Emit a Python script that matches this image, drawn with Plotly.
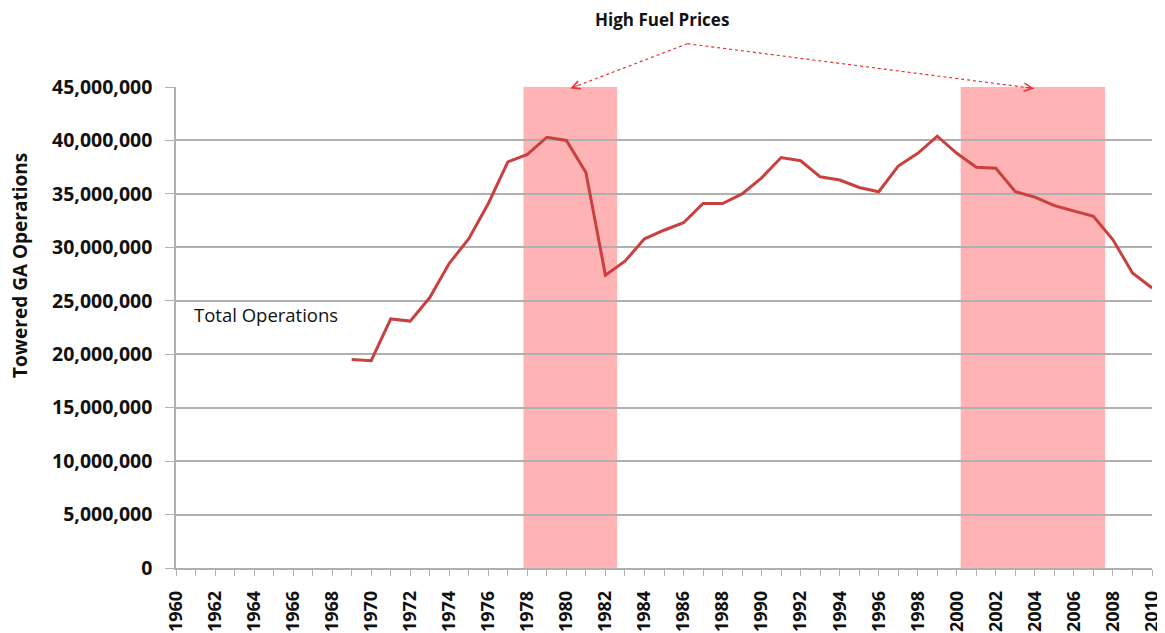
import plotly.graph_objects as go

years = list(range(1969, 2011))
operations = [
    19.5, 19.4, 23.3, 23.1, 25.3, 28.5, 30.8, 34.1, 38.0, 38.7,
    40.3, 40.0, 37.0, 27.4, 28.7, 30.8, 31.6, 32.3, 34.1, 34.1,
    35.0, 36.5, 38.4, 38.1, 36.6, 36.3, 35.6, 35.2, 37.6, 38.8,
    40.4, 38.8, 37.5, 37.4, 35.2, 34.7, 33.9, 33.4, 32.9, 30.7,
    27.6, 26.2,
]
operations = [v * 1e6 for v in operations]

fuel_periods = [(1977.8, 1982.6), (2000.2, 2007.6)]
arrow_targets = [1980.2, 2003.95]
apex_year = 1986.2
title_year = 1984.9

x_min, x_max = 1960, 2010
y_max = 45_000_000
tick_years = list(range(1960, 2011, 2))

FONT = "Open Sans"
LINE_COLOR = "#C8413F"
SHADE = "#FFB3B5"
GRID = "#B0B0B0"

# the page has an 8px body margin, so the figure is sized to the remaining area
W, H = 1157, 625
ML, MR, MT, MB = 168, 13, 79, 65
PW, PH = W - ML - MR, H - MT - MB

fig = go.Figure()

fig.add_trace(go.Scatter(
    x=years, y=operations, mode="lines",
    line=dict(color=LINE_COLOR, width=3),
    showlegend=False, hoverinfo="x+y",
))

shapes = []
for (a, b) in fuel_periods:
    shapes.append(dict(type="rect", xref="x", yref="y", x0=a, x1=b, y0=0, y1=y_max,
                       fillcolor=SHADE, line=dict(width=0), layer="below", opacity=1))

def px(year):
    return (year - x_min) / (x_max - x_min)

apex_y = 1.09
head_y = 0.997
for t in arrow_targets:
    shapes.append(dict(type="line", xref="paper", yref="paper",
                       x0=px(apex_year), y0=apex_y, x1=px(t), y1=head_y,
                       line=dict(color="#F03030", width=1.2, dash="dot")))

annotations = [
    dict(text="<b>High Fuel Prices</b>", xref="paper", yref="paper",
         x=px(title_year), y=1.141, showarrow=False,
         font=dict(family=FONT, size=17, color="#111111"), xanchor="center", yanchor="middle"),
    dict(text="<b>Towered GA Operations</b>", xref="paper", yref="paper",
         x=-(ML - 12) / PW, y=0.628, showarrow=False, textangle=-90,
         font=dict(family=FONT, size=19, color="#111111"), xanchor="center", yanchor="middle",
         borderpad=0),
    dict(text="Total Operations", xref="x", yref="y", x=1960.8, y=23.7e6,
         showarrow=False, xanchor="left", yanchor="middle",
         font=dict(family=FONT, size=18.5, color="#111111")),
]
# arrowheads
for t in arrow_targets:
    dxp = (px(apex_year) - px(t)) * PW
    dyp = (apex_y - head_y) * PH
    L = (dxp ** 2 + dyp ** 2) ** 0.5
    annotations.append(dict(text="", xref="paper", yref="paper", x=px(t), y=head_y,
                            ax=dxp / L * 10, ay=-dyp / L * 10, showarrow=True,
                            arrowhead=5, arrowsize=1.6, arrowwidth=1, arrowcolor="#F03030",
                            standoff=0))

fig.update_layout(
    width=W, height=H, autosize=False,
    margin=dict(l=ML, r=MR, t=MT, b=MB, autoexpand=False),
    paper_bgcolor="white", plot_bgcolor="white",
    shapes=shapes, annotations=annotations,
    font=dict(family=FONT, color="#111111"),
    xaxis=dict(
        range=[x_min, x_max], tickmode="array", tickvals=tick_years,
        ticktext=[f"<b>{y}</b>" for y in tick_years],
        tickangle=-90, ticks="outside", ticklen=6, tickcolor=GRID,
        minor=dict(dtick=1, ticks="outside", ticklen=6, tickcolor=GRID, showgrid=False),
        showline=True, linecolor=GRID, linewidth=1.5, showgrid=False, zeroline=False,
        tickfont=dict(family=FONT, size=18, color="#111111"),
        ticklabelstandoff=8, automargin=False,
    ),
    yaxis=dict(
        range=[0, y_max], dtick=5_000_000, tickformat=",d",
        ticks="outside", ticklen=9, tickcolor=GRID,
        showline=True, linecolor=GRID, linewidth=1.5,
        showgrid=True, gridcolor=GRID, gridwidth=1.5, zeroline=False,
        tickfont=dict(family=FONT, size=19.5, color="#111111"), ticklabelstandoff=9,
        tickprefix="<b>", ticksuffix="</b>", automargin=False,
    ),
)

fig.write_html("out.html")
